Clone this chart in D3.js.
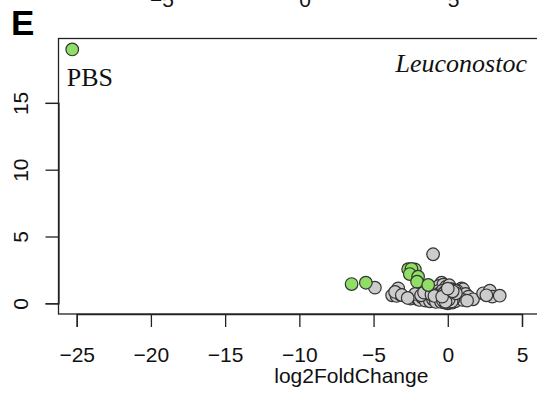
<!DOCTYPE html>
<html>
<head>
<meta charset="utf-8">
<script src="https://cdn.jsdelivr.net/npm/d3@7"></script>
<style>
  html, body { margin: 0; padding: 0; background: #fff; }
  svg { display: block; }
</style>
</head>
<body>
<svg id="chart" width="537" height="397"></svg>
<script>
// Volcano plot: log2 fold change vs -log10 p, Leuconostoc panel
const xTicks = [-25, -20, -15, -10, -5, 0, 5];
const yTicks = [0, 5, 10, 15];
const prevPanelTicks = [-5, 0, 5];

// Non-significant taxa (grey)
const greyX = [-0.99, -4.91, -3.34, -3.6, -3.75, -3.45, -3.2, -3.55, -3.1,
  -2.5, -2.3, -2.0, -1.9, -1.7, -1.5, -1.3, -1.2, -1.0, -0.8,
  -0.42, -0.6, -0.3, -0.1, 0.1, 0.25, 0.92, 1.03, 0.6,
  -0.7, -0.5, -0.35, -0.2, 0.0, 0.15, 0.3, 0.45,
  -0.6, -0.4, -0.25, -0.1, 0.05, 0.2, 0.35, 0.5, 0.7,
  -0.55, -0.3, -0.15, 0.0, 0.1, 0.25, 0.4, 0.6, 0.8,
  -0.45, -0.2, 0.0, 0.15, 0.3, 0.5, -0.05, 0.05,
  1.2, 1.4, 1.7, 2.38, 2.83, 3.0, 3.5, 2.6, 1.0, 1.3,
  -2.2, -1.8, -1.6, -1.1, -0.9, -2.7,
  -0.25, -0.12, 0.02, 0.12, 0.22, 0.32, 0.42, -0.18, -0.05, 0.08,
  0.18, 0.28, 0.38, -0.32, -0.08, 0.12, 0.26, 0.06, -0.15, 0.2,
  0.48, 0.55, -0.38, 0.33, 0.0];
const greyY = [3.67, 1.17, 1.12, 0.75, 0.6, 0.55, 0.65, 0.85, 0.62,
  0.35, 0.5, 0.3, 0.25, 0.4, 0.2, 0.45, 0.15, 0.3, 0.1,
  1.54, 1.3, 1.4, 1.25, 1.35, 1.05, 1.12, 1.05, 0.95,
  0.9, 0.8, 0.95, 0.85, 0.9, 0.8, 0.7, 0.85,
  0.6, 0.55, 0.65, 0.5, 0.6, 0.5, 0.45, 0.55, 0.6,
  0.35, 0.3, 0.25, 0.35, 0.2, 0.3, 0.25, 0.35, 0.4,
  0.1, 0.05, 0.0, 0.1, 0.05, 0.15, 0.15, 0.05,
  0.7, 0.5, 0.3, 0.75, 0.94, 0.5, 0.57, 0.6, 0.25, 0.2,
  0.7, 0.6, 0.8, 0.65, 0.55, 0.4,
  0.75, 0.7, 0.72, 0.65, 0.62, 0.58, 0.52, 0.45, 0.42, 0.4,
  0.38, 0.33, 0.3, 0.2, 0.22, 0.18, 0.14, 0.28, 0.12, 1.0,
  0.95, 0.75, 0.5, 0.9, 1.1];

// Significant taxa (green)
const greenX = [-25.3, -6.48, -5.52, -2.67, -2.22, -2.45, -2.56, -2.0, -2.07, -1.32];
const greenY = [19.0, 1.44, 1.54, 2.55, 2.54, 2.58, 2.19, 1.99, 1.62, 1.37];

const pointLabel = "PBS";
const panelTitle = "Leuconostoc";
const panelLetter = "E";
const xTitle = "log2FoldChange";

const svg = d3.select("#chart");
const box = { left: 58.5, top: 38.5, right: 600, bottom: 314 };

const x = d3.scaleLinear().domain([-25, 5]).range([76.7, 522]);
const y = d3.scaleLinear().domain([0, 15]).range([303.3, 102.9]);

const sans = "Liberation Sans, Arial, Helvetica, sans-serif";
const serif = "Liberation Serif, Times New Roman, serif";
const fmt = d => d < 0 ? "\u2212" + Math.abs(d) : d;

// Tick labels of the panel above, cut off at the top edge
svg.append("g").selectAll("text").data(prevPanelTicks).join("text")
  .attr("x", (d, i) => [162, 305, 453.5][i])
  .attr("y", 7)
  .attr("text-anchor", "middle")
  .style("font-family", sans).style("font-size", "21px").attr("fill", "#111")
  .text(fmt);

// Panel letter
svg.append("text").attr("x", 11).attr("y", 35)
  .style("font-family", sans).style("font-size", "35px").style("font-weight", "bold")
  .attr("fill", "#000").text(panelLetter);

// Plot box
svg.append("rect")
  .attr("x", box.left).attr("y", box.top)
  .attr("width", box.right - box.left).attr("height", box.bottom - box.top)
  .attr("fill", "none").attr("stroke", "#222").attr("stroke-width", 1.3);

// x axis
const xAxis = d3.axisBottom(x).tickValues(xTicks).tickSize(13).tickFormat(fmt);
const gx = svg.append("g").attr("transform", `translate(0,${box.bottom})`).call(xAxis);
gx.select(".domain").attr("stroke", "#222").attr("stroke-width", 1.3);
gx.selectAll(".tick line").attr("stroke", "#222").attr("stroke-width", 1.3);
gx.selectAll(".tick text").style("font-family", sans).style("font-size", "21px").attr("fill", "#111")
  .attr("dy", null).attr("y", 47.5);

// y axis
const yAxis = d3.axisLeft(y).tickValues(yTicks).tickSize(13).tickFormat(d => d);
const gy = svg.append("g").attr("transform", `translate(${box.left},0)`).call(yAxis);
gy.select(".domain").attr("stroke", "#222").attr("stroke-width", 1.3);
gy.selectAll(".tick line").attr("stroke", "#222").attr("stroke-width", 1.3);
gy.selectAll(".tick text").style("font-family", sans).style("font-size", "21px").attr("fill", "#111")
  .attr("x", null).attr("dy", null)
  .attr("text-anchor", "middle")
  .attr("transform", "translate(-31,0) rotate(-90)");

// x axis title
svg.append("text").attr("x", x(-6.5)).attr("y", 383)
  .attr("text-anchor", "middle")
  .style("font-family", sans).style("font-size", "21px").attr("fill", "#111")
  .text(xTitle);

// Points
const grey = greyX.map((v, i) => ({ x: v, y: greyY[i] }));
const green = greenX.map((v, i) => ({ x: v, y: greenY[i] }));

svg.append("g").selectAll("circle").data(grey).join("circle")
  .attr("cx", d => x(d.x)).attr("cy", d => y(d.y)).attr("r", 6.3)
  .attr("fill", "#cccccc").attr("stroke", "#333").attr("stroke-width", 1.2);

svg.append("g").selectAll("circle").data(green).join("circle")
  .attr("cx", d => x(d.x)).attr("cy", d => y(d.y)).attr("r", 6.3)
  .attr("fill", "#8fdf66").attr("stroke", "#333").attr("stroke-width", 1.2);

// Label for the outlying point
svg.append("text").attr("x", x(greenX[0]) - 5.5).attr("y", 86)
  .style("font-family", serif).style("font-size", "26px").attr("fill", "#111")
  .text(pointLabel);

// Panel title
svg.append("text").attr("x", 527).attr("y", 72)
  .attr("text-anchor", "end")
  .style("font-family", serif).style("font-size", "26px").style("font-style", "italic")
  .attr("fill", "#111").text(panelTitle);
</script>
</body>
</html>
